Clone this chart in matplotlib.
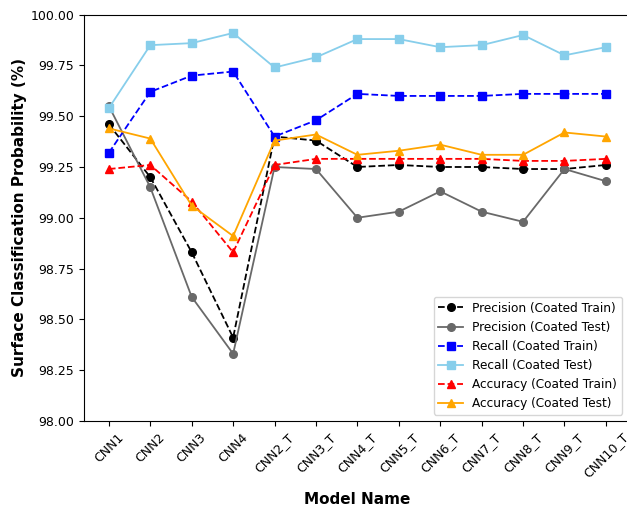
import numpy as np
import matplotlib.pyplot as plt

models = ['CNN1', 'CNN2', 'CNN3', 'CNN4', 'CNN2_T', 'CNN3_T', 'CNN4_T',
          'CNN5_T', 'CNN6_T', 'CNN7_T', 'CNN8_T', 'CNN9_T', 'CNN10_T']

prec_train = [99.46, 99.20, 98.83, 98.41, 99.40, 99.38, 99.25, 99.26, 99.25, 99.25, 99.24, 99.24, 99.26]
prec_test = [99.55, 99.15, 98.61, 98.33, 99.25, 99.24, 99.00, 99.03, 99.13, 99.03, 98.98, 99.24, 99.18]
rec_train = [99.32, 99.62, 99.70, 99.72, 99.40, 99.48, 99.61, 99.60, 99.60, 99.60, 99.61, 99.61, 99.61]
rec_test = [99.54, 99.85, 99.86, 99.91, 99.74, 99.79, 99.88, 99.88, 99.84, 99.85, 99.90, 99.80, 99.84]
acc_train = [99.24, 99.26, 99.08, 98.83, 99.26, 99.29, 99.29, 99.29, 99.29, 99.29, 99.28, 99.28, 99.29]
acc_test = [99.44, 99.39, 99.06, 98.91, 99.38, 99.41, 99.31, 99.33, 99.36, 99.31, 99.31, 99.42, 99.40]

fig = plt.figure(figsize=(6.27, 5.07), dpi=100)
# axes run slightly past the right edge, as in the original crop
ax = fig.add_axes([0.134, 0.170, 0.872, 0.801])

ms = 5.5
lw = 1.3
ax.plot(models, prec_train, 'o--', color='black', ms=ms, lw=lw, label='Precision (Coated Train)')
ax.plot(models, prec_test, 'o-', color='dimgray', ms=ms, lw=lw, label='Precision (Coated Test)')
ax.plot(models, rec_train, 's--', color='blue', ms=ms, lw=lw, label='Recall (Coated Train)')
ax.plot(models, rec_test, 's-', color='skyblue', ms=ms, lw=lw, label='Recall (Coated Test)')
ax.plot(models, acc_train, '^--', color='red', ms=ms, lw=lw, label='Accuracy (Coated Train)')
ax.plot(models, acc_test, '^-', color='orange', ms=ms, lw=lw, label='Accuracy (Coated Test)')

ax.set_ylim(98.0, 100.0)
yt = np.arange(98.0, 100.01, 0.25)
ax.set_yticks(yt)
ax.set_yticklabels(['{:.2f}'.format(v) for v in yt])
ax.tick_params(labelsize=9)
ax.set_xlabel('Model Name', fontsize=11, fontweight='bold')
ax.set_ylabel('Surface Classification Probability (%)', fontsize=11, fontweight='bold')
ax.xaxis.set_label_coords(0.5, -0.175)
ax.yaxis.set_label_coords(-0.105, 0.5)
plt.setp(ax.get_xticklabels(), rotation=45)
ax.legend(loc='lower right', fontsize=8.7, bbox_to_anchor=(0.995, 0.0))

fig.savefig('out.png', dpi=100)
